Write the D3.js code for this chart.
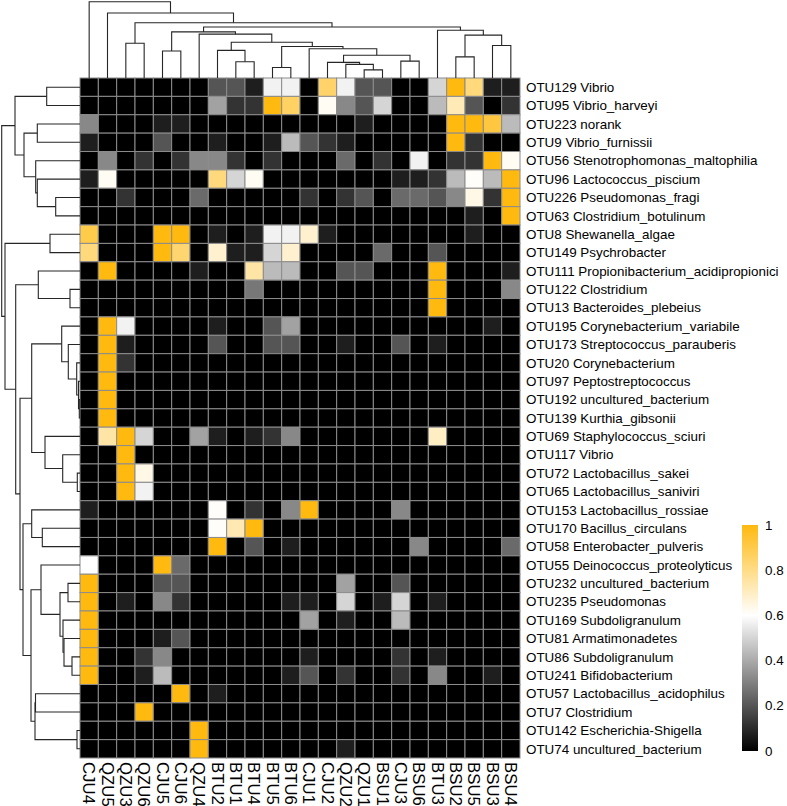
<!DOCTYPE html>
<html>
<head>
<meta charset="utf-8">
<script src="https://cdn.jsdelivr.net/npm/d3@7"></script>
<style>
  body { margin: 0; background: #fff; }
  text { font-family: "Liberation Sans", Arial, Helvetica, sans-serif; fill: #000; }
</style>
</head>
<body>
<div id="root"></div>
<script>
// column order (as clustered)
const samples = ["CJU4", "QZU5", "QZU3", "QZU6", "CJU5", "CJU6", "QZU4", "BTU2", "BTU1", "BTU4", "BTU5", "BTU6",
  "CJU1", "CJU2", "QZU2", "QZU1", "BSU1", "CJU3", "BSU6", "BTU3", "BSU2", "BSU5", "BSU3", "BSU4"];

const otuIds = ["OTU129", "OTU95", "OTU223", "OTU9", "OTU56", "OTU96", "OTU226", "OTU63", "OTU8", "OTU149",
  "OTU111", "OTU122", "OTU13", "OTU195", "OTU173", "OTU20", "OTU97", "OTU192", "OTU139", "OTU69", "OTU117",
  "OTU72", "OTU65", "OTU153", "OTU170", "OTU58", "OTU55", "OTU232", "OTU235", "OTU169", "OTU81", "OTU86",
  "OTU241", "OTU57", "OTU7", "OTU142", "OTU74"];

const otuTaxa = ["Vibrio", "Vibrio_harveyi", "norank", "Vibrio_furnissii", "Stenotrophomonas_maltophilia",
  "Lactococcus_piscium", "Pseudomonas_fragi", "Clostridium_botulinum", "Shewanella_algae", "Psychrobacter",
  "Propionibacterium_acidipropionici", "Clostridium", "Bacteroides_plebeius", "Corynebacterium_variabile",
  "Streptococcus_parauberis", "Corynebacterium", "Peptostreptococcus", "uncultured_bacterium", "Kurthia_gibsonii",
  "Staphylococcus_sciuri", "Vibrio", "Lactobacillus_sakei", "Lactobacillus_saniviri", "Lactobacillus_rossiae",
  "Bacillus_circulans", "Enterobacter_pulveris", "Deinococcus_proteolyticus", "uncultured_bacterium",
  "Pseudomonas", "Subdoligranulum", "Armatimonadetes", "Subdoligranulum", "Bifidobacterium",
  "Lactobacillus_acidophilus", "Clostridium", "Escherichia-Shigella", "uncultured_bacterium"];

// scaled abundance, one row per OTU, columns in sample order
const values = [
  [0, 0, 0, 0, 0, 0, 0, 0.2, 0.2, 0.07, 0.57, 0.57, 0, 0.85, 0.57, 0.2, 0.2, 0, 0, 0.5, 1, 0.82, 0.07, 0.07],
  [0, 0, 0, 0, 0, 0, 0, 0.38, 0.12, 0.12, 1, 0.86, 0, 0.62, 0.32, 0.2, 0.5, 0, 0, 0.44, 0.72, 0.2, 0, 0.12],
  [0.32, 0, 0, 0, 0.07, 0.07, 0, 0, 0, 0, 0, 0, 0, 0, 0, 0.07, 0, 0, 0, 0, 1, 1, 0.92, 0.44],
  [0.07, 0, 0, 0, 0.2, 0, 0, 0.07, 0, 0, 0.07, 0.44, 0.2, 0.12, 0.07, 0, 0, 0, 0, 0, 1, 0.12, 0, 0],
  [0, 0.32, 0, 0.12, 0, 0.12, 0.32, 0.32, 0.12, 0, 0.12, 0, 0, 0, 0.25, 0, 0.12, 0, 0.57, 0, 0.12, 0.12, 1, 0.62],
  [0.07, 0.62, 0, 0, 0, 0, 0, 0.82, 0.5, 0.62, 0, 0, 0, 0, 0, 0, 0, 0.07, 0.07, 0.12, 0.44, 0.61, 0.44, 1],
  [0, 0, 0.12, 0, 0, 0, 0.25, 0, 0, 0, 0, 0, 0.12, 0, 0.12, 0.2, 0, 0.25, 0.25, 0.2, 0.32, 0.64, 0.12, 1],
  [0, 0, 0, 0, 0, 0, 0, 0, 0, 0, 0, 0, 0, 0, 0, 0, 0, 0, 0, 0, 0, 0.07, 0, 1],
  [0.9, 0, 0, 0, 1, 1, 0, 0.07, 0, 0.07, 0.57, 0.57, 0.68, 0.07, 0, 0, 0, 0, 0, 0, 0, 0.07, 0, 0],
  [0.82, 0, 0, 0, 1, 0.84, 0, 0.68, 0.07, 0.07, 0.5, 0.68, 0, 0, 0, 0, 0.25, 0, 0, 0.2, 0, 0, 0, 0],
  [0, 1, 0, 0, 0, 0, 0.07, 0, 0, 0.75, 0.44, 0.44, 0, 0, 0.2, 0.2, 0, 0, 0, 1, 0, 0, 0, 0.07],
  [0, 0, 0, 0, 0, 0, 0, 0, 0, 0.28, 0, 0, 0, 0, 0, 0, 0, 0, 0, 1, 0, 0, 0, 0.32],
  [0, 0, 0, 0, 0, 0, 0, 0, 0, 0, 0, 0, 0, 0, 0, 0, 0, 0, 0, 1, 0, 0, 0, 0],
  [0, 1, 0.57, 0, 0, 0, 0, 0.07, 0, 0, 0.2, 0.38, 0, 0, 0, 0, 0, 0, 0, 0, 0, 0, 0.07, 0],
  [0, 1, 0.07, 0, 0, 0, 0, 0.2, 0, 0, 0.2, 0.2, 0, 0, 0.07, 0, 0, 0.2, 0, 0.07, 0, 0, 0, 0],
  [0, 1, 0.12, 0, 0, 0, 0, 0, 0, 0, 0, 0, 0, 0, 0, 0, 0, 0, 0, 0, 0, 0, 0, 0],
  [0, 1, 0, 0, 0, 0, 0, 0, 0, 0, 0, 0, 0, 0, 0, 0, 0, 0, 0, 0, 0, 0, 0, 0],
  [0, 1, 0, 0, 0, 0, 0, 0, 0, 0, 0, 0, 0, 0, 0, 0, 0, 0, 0, 0, 0, 0, 0, 0],
  [0, 1, 0, 0, 0, 0, 0, 0, 0, 0, 0, 0, 0, 0, 0, 0, 0, 0, 0, 0, 0, 0, 0, 0],
  [0, 0.75, 1, 0.5, 0, 0, 0.38, 0.07, 0, 0.07, 0.12, 0.32, 0, 0, 0, 0, 0, 0, 0, 0.7, 0, 0, 0, 0],
  [0, 0, 1, 0, 0, 0, 0, 0, 0, 0, 0, 0, 0, 0, 0, 0, 0, 0, 0, 0, 0, 0, 0, 0],
  [0, 0, 1, 0.64, 0, 0, 0, 0, 0, 0, 0, 0, 0, 0, 0, 0, 0, 0, 0, 0, 0, 0, 0, 0],
  [0, 0, 1, 0.57, 0, 0, 0, 0, 0, 0, 0, 0, 0, 0, 0, 0, 0, 0, 0, 0, 0, 0, 0, 0],
  [0.07, 0, 0, 0, 0, 0, 0, 0.61, 0, 0.12, 0, 0.32, 1, 0, 0, 0, 0, 0.32, 0, 0, 0, 0, 0, 0],
  [0, 0, 0, 0, 0, 0, 0, 0.61, 0.73, 1, 0, 0, 0, 0, 0, 0, 0, 0, 0, 0, 0, 0, 0, 0],
  [0, 0, 0, 0, 0, 0, 0, 1, 0, 0.2, 0, 0.07, 0, 0, 0, 0, 0, 0, 0.32, 0, 0, 0, 0, 0.25],
  [0.6, 0, 0, 0, 1, 0.25, 0, 0, 0, 0, 0, 0, 0, 0, 0, 0, 0, 0, 0, 0, 0, 0, 0, 0],
  [1, 0, 0, 0, 0.2, 0.2, 0, 0, 0, 0, 0, 0, 0, 0, 0.38, 0, 0, 0.2, 0, 0, 0, 0, 0, 0],
  [1, 0, 0.07, 0, 0.32, 0.12, 0, 0, 0, 0, 0, 0.07, 0.07, 0, 0.5, 0, 0.07, 0.5, 0, 0.07, 0, 0, 0, 0],
  [1, 0, 0, 0, 0, 0, 0, 0, 0, 0, 0, 0, 0.38, 0, 0.07, 0, 0, 0.44, 0, 0, 0, 0, 0, 0],
  [1, 0, 0, 0, 0.07, 0.2, 0, 0, 0, 0, 0, 0, 0, 0, 0, 0, 0, 0, 0, 0, 0, 0, 0, 0],
  [1, 0, 0, 0.12, 0.32, 0, 0, 0, 0, 0, 0, 0, 0.07, 0, 0, 0, 0, 0.12, 0, 0.07, 0, 0, 0, 0],
  [1, 0, 0, 0.07, 0.44, 0, 0, 0, 0, 0, 0, 0.07, 0.2, 0, 0.12, 0, 0, 0.12, 0, 0.32, 0, 0, 0.07, 0],
  [0, 0, 0, 0, 0, 1, 0, 0.07, 0, 0, 0, 0, 0, 0, 0, 0, 0, 0, 0, 0, 0, 0, 0, 0],
  [0, 0, 0, 1, 0, 0, 0, 0, 0, 0, 0, 0, 0, 0, 0, 0, 0, 0, 0, 0, 0, 0, 0, 0],
  [0, 0, 0, 0, 0, 0, 1, 0, 0, 0, 0, 0, 0, 0, 0, 0, 0, 0, 0, 0, 0, 0, 0, 0],
  [0, 0, 0, 0, 0, 0, 1, 0, 0, 0, 0, 0, 0, 0, 0.07, 0, 0, 0, 0, 0, 0, 0, 0, 0]
];

// dendrograms: [mergeHeight, left, right], leaves are names
const sampleTree =
  [78.3, "CJU4",
    [66.7, "QZU5",
      [56.7, [35.7, "QZU3", "QZU6"],
        [52.3,
          [47.3, [27.7, "CJU5", "CJU6"],
            [45, "QZU4",
              [36.7,
                [28.3, "BTU2", [16.7, "BTU1", "BTU4"]],
                [32.3, [10.7, "BTU5", "BTU6"],
                  [30, "CJU1",
                    [23.3,
                      [16, "CJU2", [14, "QZU2", [8.3, "QZU1", "BSU1"]]],
                      [17.3, "CJU3", "BSU6"]]]]]]],
          [49, "BTU3", [44, [21.7, "BSU2", "BSU5"], [33.3, "BSU3", "BSU4"]]]]]]];

const otuTree =
  [78.3,
    [65, [33.3, "OTU129", "OTU95"],
      [56, [42.7, "OTU223", "OTU9"],
        [44.3, "OTU56", [42.7, "OTU96", [24.3, "OTU226", "OTU63"]]]]],
    [75, [30, "OTU8", "OTU149"],
      [64.3,
        [41.7, "OTU111", [10, "OTU122", "OTU13"]],
        [60,
          [48.3,
            [18.3, "OTU195", [11.7, "OTU173", [3.3, "OTU20", [1.5, "OTU97", [0.7, "OTU192", "OTU139"]]]]],
            [35, "OTU69", [17.3, "OTU117", [2.7, "OTU72", "OTU65"]]]],
          [57,
            [48.3, "OTU153", [37.7, "OTU170", "OTU58"]],
            [49,
              [39, "OTU55", [20, [12, "OTU232", "OTU235"],
                [17, "OTU169", [16, "OTU81", [8, "OTU86", "OTU241"]]]]],
              [45, [44.5, "OTU57", "OTU7"], [3, "OTU142", "OTU74"]]]]]]]];

const legendTicks = [0, 0.2, 0.4, 0.6, 0.8, 1];

const width = 787, height = 806;
const hm = { left: 80, top: 78, right: 520, bottom: 758 };

const svg = d3.select("#root").append("svg")
  .attr("width", width).attr("height", height);

const x = d3.scaleBand().domain(samples).range([hm.left, hm.right]);
const y = d3.scaleBand().domain(otuIds).range([hm.top, hm.bottom]);
const color = d3.scaleLinear().domain([0, 0.6, 1]).range(["#000000", "#ffffff", "#ffb90f"]);

// heatmap cells
const cells = [];
values.forEach((row, i) => row.forEach((v, j) => cells.push({ otu: otuIds[i], sample: samples[j], v })));

svg.append("g").selectAll("rect")
  .data(cells)
  .enter().append("rect")
  .attr("x", d => x(d.sample))
  .attr("y", d => y(d.otu))
  .attr("width", x.bandwidth())
  .attr("height", y.bandwidth())
  .attr("fill", d => color(d.v))
  .attr("stroke", "#8c8c8c")
  .attr("stroke-width", 1);

// row labels
svg.append("g").selectAll("text")
  .data(otuIds)
  .enter().append("text")
  .attr("x", hm.right + 6)
  .attr("y", d => y(d) + y.bandwidth() / 2)
  .attr("dy", "0.35em")
  .style("font-size", "13.4px")
  .text((d, i) => d + " " + otuTaxa[i]);

// column labels, reading downwards
svg.append("g").selectAll("text")
  .data(samples)
  .enter().append("text")
  .attr("transform", d => "translate(" + (x(d) + x.bandwidth() / 2) + "," + (hm.bottom + 4) + ") rotate(90)")
  .attr("dy", "0.35em")
  .style("font-size", "16.8px")
  .text(d => d);

// dendrograms
function toNode(d) {
  return typeof d === "string" ? { name: d, h: 0 } : { h: d[0], children: [toNode(d[1]), toNode(d[2])] };
}

function drawTree(tree, band, hScale, vertical) {
  const root = d3.hierarchy(toNode(tree));
  root.eachAfter(n => {
    n.pos = n.children
      ? (n.children[0].pos + n.children[1].pos) / 2
      : band(n.data.name) + band.bandwidth() / 2;
  });
  const links = root.descendants().filter(n => n.children);
  svg.append("g").selectAll("path")
    .data(links)
    .enter().append("path")
    .attr("fill", "none")
    .attr("stroke", "#262626")
    .attr("stroke-width", 1.1)
    .attr("d", n => {
      const [a, b] = n.children;
      if (vertical) {
        return `M${a.pos},${hScale(a.data.h)}V${hScale(n.data.h)}H${b.pos}V${hScale(b.data.h)}`;
      }
      return `M${hScale(a.data.h)},${a.pos}H${hScale(n.data.h)}V${b.pos}H${hScale(b.data.h)}`;
    });
}

drawTree(sampleTree, x, d3.scaleLinear().domain([0, 78.3]).range([hm.top, 1.7]), true);
drawTree(otuTree, y, d3.scaleLinear().domain([0, 78.3]).range([hm.left, 1.7]), false);

// legend
const legY = d3.scaleLinear().domain([0, 1]).range([751, 525]);
const grad = svg.append("defs").append("linearGradient")
  .attr("id", "legGrad")
  .attr("x1", 0).attr("y1", 1).attr("x2", 0).attr("y2", 0);
grad.selectAll("stop")
  .data(color.domain())
  .enter().append("stop")
  .attr("offset", d => d)
  .attr("stop-color", d => color(d));

svg.append("rect")
  .attr("x", 742).attr("width", 16)
  .attr("y", legY(1)).attr("height", legY(0) - legY(1))
  .attr("fill", "url(#legGrad)");

svg.append("g").selectAll("text")
  .data(legendTicks)
  .enter().append("text")
  .attr("x", 765)
  .attr("y", d => legY(d))
  .attr("dy", "0.35em")
  .style("font-size", "13.4px")
  .text(d => d3.format("~g")(d));
</script>
</body>
</html>
